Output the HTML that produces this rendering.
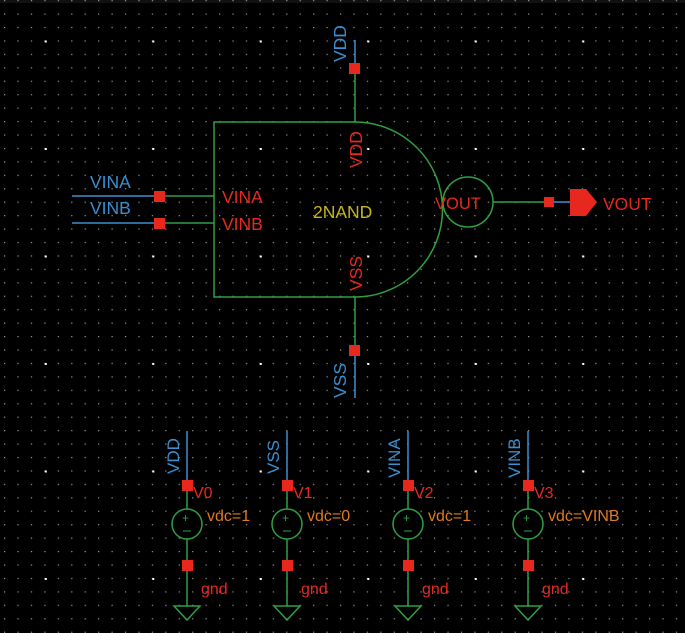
<!DOCTYPE html>
<html><head><meta charset="utf-8"><style>
html,body{margin:0;padding:0;background:#000;}
svg{display:block}
text{font-family:"Liberation Sans",sans-serif;}
</style></head><body>
<svg width="685" height="633" viewBox="0 0 685 633" xmlns="http://www.w3.org/2000/svg">
<defs>
<pattern id="minor" x="4" y="13.5" width="13.4375" height="13.4375" patternUnits="userSpaceOnUse">
<rect x="0" y="0" width="1.2" height="1.2" fill="#9a9a9a"/>
</pattern>
<pattern id="major" x="44.8" y="40.5" width="107.5" height="107.5" patternUnits="userSpaceOnUse">
<rect x="0" y="0" width="2" height="2" fill="#ffffff"/>
</pattern>
</defs>
<rect width="685" height="633" fill="#000"/>
<rect x="0" y="0" width="685" height="3" fill="#111"/>
<rect width="685" height="633" fill="url(#minor)"/>
<rect width="685" height="633" fill="url(#major)"/>

<g fill="none" stroke-width="1.5">
<path d="M355,122 H214 V297 H355 A87.5,87.5 0 0 0 355,122" stroke="#2ea043"/>
<circle cx="468" cy="202" r="25" stroke="#2ea043"/>
<line x1="355" y1="40" x2="355" y2="68" stroke="#3a8fd0"/>
<line x1="355" y1="68" x2="355" y2="122" stroke="#2ea043"/>
<line x1="355" y1="297" x2="355" y2="350" stroke="#2ea043"/>
<line x1="355" y1="350" x2="355" y2="398" stroke="#3a8fd0"/>
<line x1="72" y1="196" x2="159" y2="196" stroke="#3a8fd0"/>
<line x1="159" y1="196" x2="214" y2="196" stroke="#2ea043"/>
<line x1="72" y1="223" x2="159" y2="223" stroke="#3a8fd0"/>
<line x1="159" y1="223" x2="214" y2="223" stroke="#2ea043"/>
<line x1="493" y1="202" x2="549" y2="202" stroke="#2ea043"/>
<line x1="549" y1="202" x2="572" y2="202" stroke="#3a8fd0"/>
</g>
<g fill="#e8281e">
<rect x="349" y="63" width="11" height="11"/>
<rect x="349" y="345" width="11" height="11"/>
<rect x="154" y="191" width="11" height="11"/>
<rect x="154" y="218" width="11" height="11"/>
<rect x="544" y="197" width="10" height="10"/>
<path d="M570,189 H586 L597,202 L586,216 H570 Z"/>
</g>
<g font-size="17.5">
<text x="90" y="188" fill="#3a8fd0">VINA</text>
<text x="90" y="214" fill="#3a8fd0">VINB</text>
<text x="222" y="203" fill="#e8281e">VINA</text>
<text x="222" y="230" fill="#e8281e">VINB</text>
<text x="313" y="218" fill="#c8b41e">2NAND</text>
<text x="435" y="209" fill="#e8281e" font-size="16.5">VOUT</text>
<text x="603" y="210" fill="#e8281e">VOUT</text>
<text transform="translate(346,62) rotate(-90)" fill="#3a8fd0">VDD</text>
<text transform="translate(362,168) rotate(-90)" fill="#e8281e">VDD</text>
<text transform="translate(362,291) rotate(-90)" fill="#e8281e">VSS</text>
<text transform="translate(346,398) rotate(-90)" fill="#3a8fd0">VSS</text>
</g>

<g font-size="16">
<g transform="translate(187,0)">
<line x1="0" y1="431" x2="0" y2="485" stroke="#3a8fd0" stroke-width="1.5"/>
<line x1="0" y1="485" x2="0" y2="606" stroke="#2ea043" stroke-width="1.5"/>
<circle cx="0" cy="524" r="15" fill="#000" stroke="#2ea043" stroke-width="1.5"/>
<text x="-5" y="522" fill="#2ea043" font-size="12">+</text>
<line x1="-4" y1="531" x2="4" y2="531" stroke="#2ea043" stroke-width="1"/>
<path d="M-13,606 H13 L0,620 Z" fill="none" stroke="#2ea043" stroke-width="1.5"/>
<rect x="-5" y="480" width="11" height="11" fill="#e8281e"/>
<rect x="-5" y="560" width="11" height="11" fill="#e8281e"/>
<text x="14" y="594" fill="#e8281e">gnd</text>
</g>
<g transform="translate(287,0)">
<line x1="0" y1="431" x2="0" y2="485" stroke="#3a8fd0" stroke-width="1.5"/>
<line x1="0" y1="485" x2="0" y2="606" stroke="#2ea043" stroke-width="1.5"/>
<circle cx="0" cy="524" r="15" fill="#000" stroke="#2ea043" stroke-width="1.5"/>
<text x="-5" y="522" fill="#2ea043" font-size="12">+</text>
<line x1="-4" y1="531" x2="4" y2="531" stroke="#2ea043" stroke-width="1"/>
<path d="M-13,606 H13 L0,620 Z" fill="none" stroke="#2ea043" stroke-width="1.5"/>
<rect x="-5" y="480" width="11" height="11" fill="#e8281e"/>
<rect x="-5" y="560" width="11" height="11" fill="#e8281e"/>
<text x="14" y="594" fill="#e8281e">gnd</text>
</g>
<g transform="translate(408,0)">
<line x1="0" y1="431" x2="0" y2="485" stroke="#3a8fd0" stroke-width="1.5"/>
<line x1="0" y1="485" x2="0" y2="606" stroke="#2ea043" stroke-width="1.5"/>
<circle cx="0" cy="524" r="15" fill="#000" stroke="#2ea043" stroke-width="1.5"/>
<text x="-5" y="522" fill="#2ea043" font-size="12">+</text>
<line x1="-4" y1="531" x2="4" y2="531" stroke="#2ea043" stroke-width="1"/>
<path d="M-13,606 H13 L0,620 Z" fill="none" stroke="#2ea043" stroke-width="1.5"/>
<rect x="-5" y="480" width="11" height="11" fill="#e8281e"/>
<rect x="-5" y="560" width="11" height="11" fill="#e8281e"/>
<text x="14" y="594" fill="#e8281e">gnd</text>
</g>
<g transform="translate(528,0)">
<line x1="0" y1="431" x2="0" y2="485" stroke="#3a8fd0" stroke-width="1.5"/>
<line x1="0" y1="485" x2="0" y2="606" stroke="#2ea043" stroke-width="1.5"/>
<circle cx="0" cy="524" r="15" fill="#000" stroke="#2ea043" stroke-width="1.5"/>
<text x="-5" y="522" fill="#2ea043" font-size="12">+</text>
<line x1="-4" y1="531" x2="4" y2="531" stroke="#2ea043" stroke-width="1"/>
<path d="M-13,606 H13 L0,620 Z" fill="none" stroke="#2ea043" stroke-width="1.5"/>
<rect x="-5" y="480" width="11" height="11" fill="#e8281e"/>
<rect x="-5" y="560" width="11" height="11" fill="#e8281e"/>
<text x="14" y="594" fill="#e8281e">gnd</text>
</g>
<g fill="#e8281e">
<text x="193" y="498">V0</text>
<text x="293" y="498">V1</text>
<text x="414" y="498">V2</text>
<text x="534" y="498">V3</text>
</g>
<g fill="#e07a1e">
<text x="207" y="521">vdc=1</text>
<text x="307" y="521">vdc=0</text>
<text x="428" y="521">vdc=1</text>
<text x="548" y="521">vdc=VINB</text>
</g>
<g fill="#3a8fd0" font-size="17">
<text transform="translate(179,474) rotate(-90)">VDD</text>
<text transform="translate(279,474) rotate(-90)">VSS</text>
<text transform="translate(400,478) rotate(-90)">VINA</text>
<text transform="translate(520,478) rotate(-90)">VINB</text>
</g>
</g>
</svg>
</body></html>
